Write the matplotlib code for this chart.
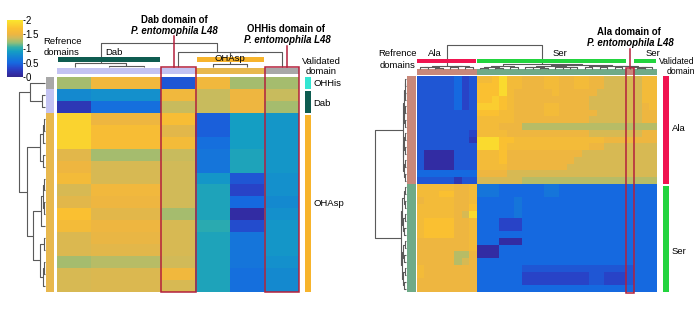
import numpy as np
import matplotlib
matplotlib.use("Agg")
import matplotlib.pyplot as plt
from matplotlib.colors import LinearSegmentedColormap, to_rgb
from matplotlib.patches import Rectangle

plt.rcParams['font.family'] = ['Liberation Sans', 'DejaVu Sans']

# ---------------- data: left panel ----------------
left_matrix = [
    [1.25, 1.55, 1.55, 0.40, 1.55, 1.25, 1.25],
    [0.75, 0.80, 0.80, 1.55, 1.35, 1.50, 1.35],
    [0.20, 0.55, 0.55, 1.35, 1.35, 1.50, 1.25],
    [1.85, 1.50, 1.50, 1.65, 0.45, 0.90, 0.85],
    [1.85, 1.65, 1.65, 1.45, 0.45, 0.90, 0.85],
    [1.85, 1.65, 1.65, 1.60, 0.55, 0.90, 0.85],
    [1.45, 1.25, 1.25, 1.35, 0.60, 0.95, 0.85],
    [1.50, 1.40, 1.40, 1.38, 0.60, 0.95, 0.85],
    [1.60, 1.40, 1.40, 1.38, 0.85, 0.40, 0.80],
    [1.40, 1.55, 1.55, 1.38, 0.95, 0.30, 0.80],
    [1.45, 1.50, 1.50, 1.38, 0.95, 0.50, 0.75],
    [1.70, 1.45, 1.45, 1.25, 0.95, 0.10, 0.80],
    [1.60, 1.50, 1.50, 1.40, 1.00, 0.35, 0.85],
    [1.42, 1.48, 1.48, 1.40, 0.95, 0.60, 0.85],
    [1.42, 1.45, 1.45, 1.40, 0.95, 0.60, 0.85],
    [1.25, 1.30, 1.30, 1.38, 0.95, 0.60, 0.80],
    [1.40, 1.42, 1.42, 1.55, 0.95, 0.55, 0.75],
    [1.40, 1.42, 1.42, 1.40, 0.95, 0.55, 0.75],
]
left_col_group = ['Dab', 'Dab', 'Dab', 'Dab', 'OHAsp', 'OHAsp', 'OHHis']
left_row_group = ['OHHis', 'Dab', 'Dab'] + ['OHAsp'] * 15
left_col_ref = ['Dab', 'Dab', 'Dab', None, 'OHAsp', 'OHAsp', None]
left_row_valid = ['OHHis', 'Dab', 'Dab'] + ['OHAsp'] * 15
left_query_cols = [3, 6]
# dendrograms: node = [height, left, right], leaf = index
left_col_tree = [24.5, [4.0, 0, [1.0, 1, 2]], [15.5, 3, [15.0, [3.0, 4, 5], 6]]]
left_row_tree = [26, [15, 0, [3, 1, 2]],
                 [18, [5, [2, [1, 3, 4], 5], [2, 6, 7]],
                  [12, [4, [2.5, [1, 8, 9], [1.5, 10, 11]], 12],
                   [5, [1, 13, 14], [2, [1.5, 15, 16], 17]]]]]

# ---------------- data: right panel (values x10) ----------------
right_matrix10 = [
    [4,4,4,4,4,5,3,4, 16,16,17,19,16,16,15,15,15, 16,16,15,15,16,16,15,15, 14,14,14,14,14,16,16],
    [4,4,4,4,4,5,3,4, 17,17,17,19,16,16,15,15,15, 16,16,15,15,16,16,15,15, 14,14,14,14,14,16,16],
    [4,4,4,4,4,5,3,4, 17,17,17,19,16,15,15,15,15, 15,16,15,15,15,15,15,14, 14,14,14,14,14,16,16],
    [4,4,4,4,4,5,3,4, 17,17,18,17,16,15,15,15,15, 15,15,15,15,15,15,14,14, 14,14,14,14,14,16,16],
    [4,4,4,4,4,5,3,4, 18,18,18,17,16,15,15,15,15, 16,16,15,15,15,15,14,14, 14,14,14,14,14,15,16],
    [4,4,4,4,4,4,4,4, 17,17,17,16,16,15,15,15,15, 16,16,15,15,15,15,15,14, 14,14,14,14,14,15,15],
    [4,4,4,4,4,4,4,4, 16,16,16,16,16,15,15,15,15, 15,15,15,15,15,15,14,14, 14,14,14,14,14,15,15],
    [4,4,4,4,4,4,4,4, 16,16,16,15,15,15,13,13,13, 13,13,13,13,13,13,13,13, 13,13,13,13,13,13,13],
    [4,4,4,4,4,4,4,3, 16,16,16,16,15,15,15,15,15, 15,15,15,15,15,15,14,14, 14,14,14,14,14,15,15],
    [4,4,4,4,4,4,4,2, 19,19,19,17,17,16,16,16,16, 16,16,16,16,16,16,16,16, 15,15,15,15,15,15,15],
    [4,4,4,4,4,4,4,4, 19,19,19,17,16,16,16,16,16, 16,16,16,16,16,16,15,15, 14,14,14,14,14,14,14],
    [4,1,1,1,1,4,4,4, 16,16,16,17,15,15,15,15,15, 15,15,15,15,15,14,14,14, 14,14,14,14,14,14,14],
    [4,1,1,1,1,4,4,4, 16,16,16,17,15,15,15,15,15, 15,15,15,15,14,14,14,14, 14,14,14,14,14,14,14],
    [4,1,1,1,1,4,4,4, 16,16,16,16,15,15,15,15,15, 15,15,15,14,14,14,14,14, 14,14,14,14,14,14,14],
    [5,5,5,5,5,5,5,5, 15,15,15,15,14,14,14,14,14, 14,14,14,14,14,14,14,14, 14,14,14,14,14,14,14],
    [4,4,4,4,4,2,4,4, 14,14,14,14,14,14,13,13,13, 13,13,13,13,13,13,13,13, 13,13,13,13,13,13,13],
    [16,16,16,16,16,15,15,16, 6,6,6,5,5,5,5,5,5, 6,6,5,5,5,5,5,5, 5,5,5,5,5,5,5],
    [16,16,16,17,17,15,15,16, 6,6,6,5,5,5,5,5,5, 6,6,5,5,5,5,5,5, 5,5,5,5,5,5,5],
    [15,16,16,16,16,15,15,16, 5,5,5,5,5,6,5,5,5, 5,5,5,5,5,5,5,5, 5,5,5,5,5,5,5],
    [16,16,16,16,16,15,15,17, 5,5,5,5,5,6,5,5,5, 5,5,5,5,5,5,5,5, 5,5,5,5,5,5,5],
    [16,16,16,16,16,15,14,19, 5,5,5,5,5,6,5,5,5, 5,5,5,5,5,5,5,5, 5,5,5,5,5,5,5],
    [16,17,17,17,17,15,15,16, 5,5,5,3,3,3,5,5,5, 5,5,5,5,5,5,5,5, 5,5,5,5,5,5,5],
    [16,17,17,17,17,15,15,16, 5,5,5,3,3,3,5,5,5, 5,5,5,5,5,5,5,5, 5,5,5,5,5,5,5],
    [16,17,17,17,17,15,15,16, 5,5,5,5,5,5,5,5,5, 5,5,5,5,5,5,5,5, 5,5,5,5,5,5,5],
    [15,15,15,15,15,15,15,16, 5,5,5,1,1,1,5,5,5, 5,5,5,5,5,5,5,5, 5,5,5,5,5,5,5],
    [15,15,15,15,15,15,15,16, 1,1,1,5,5,5,5,5,5, 5,5,5,5,5,5,5,5, 5,5,5,5,5,5,5],
    [15,15,15,15,15,13,13,15, 1,1,1,5,5,5,5,5,5, 5,5,5,5,5,5,5,5, 5,5,5,5,5,5,5],
    [15,15,15,15,15,13,14,15, 5,5,5,5,5,5,5,5,5, 5,5,5,5,5,5,5,5, 5,5,5,5,5,5,5],
    [16,15,15,15,15,15,15,15, 5,5,5,5,5,5,4,4,4, 4,4,4,4,4,4,4,4, 4,4,4,4,5,5,5],
    [16,15,15,15,15,15,15,15, 5,5,5,5,5,5,3,3,3, 3,3,3,3,3,3,4,4, 3,3,3,4,5,5,5],
    [15,15,15,15,15,15,15,15, 5,5,5,5,5,5,3,3,3, 3,3,3,3,3,3,4,4, 3,3,3,4,5,5,5],
    [15,15,15,15,15,15,15,15, 5,5,5,5,5,5,5,5,5, 5,5,5,5,5,5,5,5, 5,5,5,5,5,5,5],
]
right_col_group = ['Ala'] * 8 + ['Ser'] * 20 + ['Ala'] + ['Ser'] * 3
right_row_group = ['Ala'] * 16 + ['Ser'] * 16
right_col_ref = ['Ala'] * 8 + ['Ser'] * 20 + [None] + ['Ser'] * 3
right_row_valid = ['Ala'] * 16 + ['Ser'] * 16
right_query_cols = [28]
right_col_tree = [23, [2.5, [1.5, [1, 0, 1], [0.8, 2, 3]], [2, [1.2, 4, 5], [1, 6, 7]]],
                  [4, [2, [1, [0.5, 8, 9], [0.7, 10, 11]], [1.2, 12, 13]],
                   [3.4, [2.5, [1.5, [1, 14, 15], [0.8, 16, 17]], [1.8, [1, 18, 19], [1.2, 20, 21]]],
                    [2.8, [2, [1, 22, 23], [1.5, 24, 25]],
                     [2.2, [1.2, 26, 27], [1.6, 28, [1, [0.6, 29, 30], 31]]]]]]]
right_row_tree = [31, [3, [2.5, [1.5, [0.8, 0, 1], [1, 2, 3]], [2, [1, 4, 5], [1.2, 6, 7]]],
                       [2.8, [1.8, [0.6, 8, 9], [1.1, 10, 11]], [2.2, [0.9, 12, 13], [1.4, 14, 15]]]],
                  [5, [4, [2.5, [1.2, 16, 17], [1.5, 18, 19]], [3, [1, 20, 21], [1.8, 22, 23]]],
                   [4.5, [3.2, [1.4, 24, 25], [2, 26, 27]], [3.5, [1.1, 28, 29], [2.4, 30, 31]]]]]

# ---------------- styles ----------------
W, H = 696, 312
cmap = LinearSegmentedColormap.from_list('parula_like', [
    (0.00, (50/255, 40/255, 140/255)),
    (0.05, (50/255, 45/255, 165/255)),
    (0.15, (40/255, 68/255, 200/255)),
    (0.25, (22/255, 105/255, 225/255)),
    (0.35, (20/255, 130/255, 212/255)),
    (0.45, (20/255, 158/255, 196/255)),
    (0.52, (50/255, 175/255, 170/255)),
    (0.60, (145/255, 190/255, 120/255)),
    (0.68, (205/255, 187/255, 92/255)),
    (0.75, (238/255, 182/255, 65/255)),
    (0.85, (250/255, 192/255, 50/255)),
    (1.00, (250/255, 230/255, 45/255)),
])
left_group_colors = {'Dab': '#C3C3F2', 'OHAsp': '#E8B84E', 'OHHis': '#A8A8A8'}
left_ref_colors = {'Dab': '#0E5C50', 'OHAsp': '#F7B42C'}
left_valid_colors = {'OHHis': '#33E6D2', 'Dab': '#0E5C50', 'OHAsp': '#F7B42C'}
right_group_colors = {'Ala': '#C8887A', 'Ser': '#6FAA88'}
right_ref_colors = {'Ala': '#F01450', 'Ser': '#22D43E'}
right_valid_colors = {'Ala': '#F01450', 'Ser': '#22D43E'}
dcol = '#5a5a5a'
red = '#B4203C'

fig = plt.figure(figsize=(W / 100, H / 100), dpi=100)


def px_axes(x0, y0, x1, y1):
    ax = fig.add_axes([x0 / W, 1 - y1 / H, (x1 - x0) / W, (y1 - y0) / H])
    ax.set_axis_off()
    return ax


def runs(labels):
    out, start = [], 0
    for i in range(1, len(labels) + 1):
        if i == len(labels) or labels[i] != labels[start]:
            out.append((labels[start], start, i))
            start = i
    return out


def draw_dendro(ax, tree, orient, lw=0.8):
    def rec(node):
        if isinstance(node, int):
            return node + 0.5, 0.0
        h, l, r = node
        pl, hl = rec(l)
        pr, hr = rec(r)
        if orient == 'top':
            ax.plot([pl, pl, pr, pr], [hl, h, h, hr], color=dcol, lw=lw, clip_on=False,
                    solid_capstyle='butt')
        else:
            ax.plot([hl, h, h, hr], [pl, pl, pr, pr], color=dcol, lw=lw, clip_on=False,
                    solid_capstyle='butt')
        return (pl + pr) / 2, h
    rec(tree)


def panel(M, geo, col_group, row_group, gcolors, col_ref, rcolors, row_valid, vcolors,
          col_tree, row_tree):
    M = np.asarray(M, dtype=float)
    nr, nc = M.shape
    hx0, hx1, hy0, hy1 = geo['heat']
    ax = px_axes(hx0, hy0, hx1, hy1)
    ax.imshow(M, cmap=cmap, vmin=0, vmax=2, aspect='auto', interpolation='nearest',
              extent=(0, nc, nr, 0))
    # top group strip
    ty0, ty1 = geo['top_strip']
    axt = px_axes(hx0, ty0, hx1, ty1)
    axt.imshow([[to_rgb(gcolors[g]) for g in col_group]], aspect='auto',
               interpolation='nearest', extent=(0, nc, 1, 0))
    # left group strip
    lx0, lx1 = geo['left_strip']
    axl = px_axes(lx0, hy0, lx1, hy1)
    axl.imshow([[to_rgb(gcolors[g])] for g in row_group], aspect='auto',
               interpolation='nearest', extent=(0, 1, nr, 0))
    # validated strip
    vx0, vx1 = geo['valid_strip']
    axv = px_axes(vx0, hy0, vx1, hy1)
    axv.set_xlim(0, 1)
    axv.set_ylim(nr, 0)
    for i, (lab, s, e) in enumerate(runs(row_valid)):
        gap = 0.13 * (12 / geo['cell_h']) if i > 0 else 0
        axv.bar(0.5, e - s - gap, bottom=s + gap, width=1, color=vcolors[lab])
    # col dendrogram
    dy0, dy1 = geo['col_dendro']
    axd = px_axes(hx0, dy0, hx1, dy1)
    axd.set_xlim(0, nc)
    axd.set_ylim(0, col_tree[0])
    draw_dendro(axd, col_tree, 'top')
    # row dendrogram
    rx0, rx1 = geo['row_dendro']
    axr = px_axes(rx0, hy0, rx1, hy1)
    axr.set_ylim(nr, 0)
    axr.set_xlim(row_tree[0], 0)
    draw_dendro(axr, row_tree, 'left')
    # reference domain bars
    by0, by1 = geo['ref_bar']
    axb = px_axes(hx0, by0, hx1, by1)
    axb.set_xlim(0, nc)
    axb.set_ylim(0, 1)
    for lab, s, e in runs(col_ref):
        if lab is None:
            continue
        axb.barh(0.5, e - s - 0.06, left=s + 0.03, height=1, color=rcolors[lab])
    return nr, nc


# ---------------- left panel ----------------
Lgeo = dict(heat=(57.3, 299.3, 77.3, 291.7), top_strip=(67.7, 74.0), left_strip=(46.0, 54.0),
            valid_strip=(305.0, 311.0), col_dendro=(43.0, 67.2), row_dendro=(19.0, 45.0),
            ref_bar=(57.3, 61.7), cell_h=11.9)
panel(left_matrix, Lgeo, left_col_group, left_row_group, left_group_colors, left_col_ref,
      left_ref_colors, left_row_valid, left_valid_colors, left_col_tree, left_row_tree)

# ---------------- right panel ----------------
Rgeo = dict(heat=(416.7, 656.0, 76.0, 292.0), top_strip=(68.8, 75.2), left_strip=(406.7, 415.0),
            valid_strip=(663.0, 669.0), col_dendro=(45.0, 68.5), row_dendro=(375.0, 406.0),
            ref_bar=(59.3, 63.3), cell_h=6.75)
panel(np.asarray(right_matrix10) / 10.0, Rgeo, right_col_group,
      right_row_group, right_group_colors, right_col_ref, right_ref_colors, right_row_valid,
      right_valid_colors, right_col_tree, right_row_tree)

# ---------------- colorbar ----------------
cax = fig.add_axes([7.3 / W, 1 - 77 / H, (22.7 - 7.3) / W, (77 - 20) / H])
sm = plt.cm.ScalarMappable(cmap=cmap, norm=plt.Normalize(0, 2))
cb = fig.colorbar(sm, cax=cax, ticks=[0, 0.5, 1, 1.5, 2])
cb.outline.set_visible(False)
cb.ax.set_yticklabels(['0', '0.5', '1', '1.5', '2'])
cb.ax.tick_params(length=1.5, width=0.6, pad=0.5, labelsize=7)

# ---------------- overlay: boxes, leaders, text ----------------
ov = fig.add_axes([0, 0, 1, 1])
ov.set_xlim(0, W)
ov.set_ylim(H, 0)
ov.set_axis_off()
ov.patch.set_visible(False)


def boxes(geo, nc, qcols, top):
    hx0, hx1, hy0, hy1 = geo['heat']
    cw = (hx1 - hx0) / nc
    xs = []
    for q in qcols:
        x = hx0 + q * cw
        ov.add_patch(Rectangle((x, top), cw, hy1 + 0.6 - top, fill=False, ec=red, lw=1.1))
        xs.append(x + cw / 2)
    return xs


lx = boxes(Lgeo, 7, left_query_cols, 67.3)
rx = boxes(Rgeo, 32, right_query_cols, 68.0)
ov.plot([lx[0] - 4.5, lx[0] - 4.5], [36, 67.3], color=red, lw=1.1)
ov.plot([lx[1] + 4.5, lx[1] + 4.5], [46, 67.3], color=red, lw=1.1)
ov.plot([rx[0], rx[0]], [48.5, 68.0], color=red, lw=1.1)

fs = 6.8
bfs = 6.9
ov.text(174, 20, 'Dab domain of', ha='center', va='center', fontsize=bfs, fontweight='bold')
ov.text(174, 31, 'P. entomophila L48', ha='center', va='center', fontsize=bfs,
        fontweight='bold', style='italic')
ov.text(286, 29, 'OHHis domain of', ha='center', va='center', fontsize=bfs, fontweight='bold')
ov.text(287, 40, 'P. entomophila L48', ha='center', va='center', fontsize=bfs,
        fontweight='bold', style='italic')
ov.text(629, 32, 'Ala domain of', ha='center', va='center', fontsize=bfs, fontweight='bold')
ov.text(630, 43, 'P. entomophila L48', ha='center', va='center', fontsize=bfs,
        fontweight='bold', style='italic')

ov.text(62, 41, 'Refrence', ha='center', va='center', fontsize=fs)
ov.text(62, 52.5, 'domains', ha='center', va='center', fontsize=fs)
ov.text(114, 52.5, 'Dab', ha='center', va='center', fontsize=fs)
ov.text(229.5, 58.5, 'OHAsp', ha='center', va='center', fontsize=fs)
ov.text(321.5, 61, 'Validated', ha='center', va='center', fontsize=fs)
ov.text(321.5, 72, 'domain', ha='center', va='center', fontsize=fs)
ov.text(313, 84, 'OHHis', ha='left', va='center', fontsize=fs)
ov.text(313, 103.5, 'Dab', ha='left', va='center', fontsize=fs)
ov.text(313, 204, 'OHAsp', ha='left', va='center', fontsize=fs)

ov.text(397.5, 53.5, 'Refrence', ha='center', va='center', fontsize=fs)
ov.text(397.5, 65, 'domains', ha='center', va='center', fontsize=fs)
ov.text(434.5, 53.5, 'Ala', ha='center', va='center', fontsize=fs)
ov.text(559.5, 53.5, 'Ser', ha='center', va='center', fontsize=fs)
ov.text(653, 53.5, 'Ser', ha='center', va='center', fontsize=fs)
ov.text(695, 61.5, 'Validated', ha='right', va='center', fontsize=6.2)
ov.text(695, 72, 'domain', ha='right', va='center', fontsize=6.2)
ov.text(672, 128.5, 'Ala', ha='left', va='center', fontsize=fs)
ov.text(672, 251, 'Ser', ha='left', va='center', fontsize=fs)

fig.savefig('out.png', dpi=100)
